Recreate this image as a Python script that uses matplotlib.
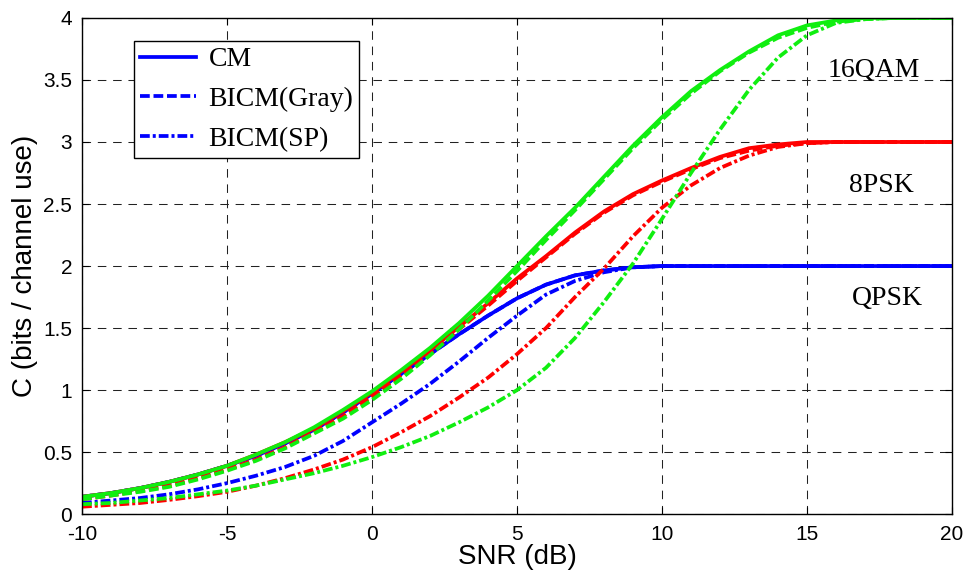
import numpy as np
import matplotlib
matplotlib.use("Agg")
import matplotlib.pyplot as plt

plt.rcParams["axes.unicode_minus"] = False

# SNR grid (dB)
snr = list(range(-10, 21))

# QPSK
qpsk_cm = [0.14, 0.17, 0.21, 0.26, 0.32, 0.39, 0.47, 0.57, 0.68, 0.82, 0.97,
           1.13, 1.29, 1.45, 1.60, 1.74, 1.85, 1.925, 1.965, 1.99, 2.0,
           2.0, 2.0, 2.0, 2.0, 2.0, 2.0, 2.0, 2.0, 2.0, 2.0]
qpsk_gray = list(qpsk_cm)
qpsk_sp = [0.09, 0.11, 0.13, 0.16, 0.20, 0.25, 0.31, 0.38, 0.47, 0.59, 0.74,
           0.89, 1.05, 1.23, 1.42, 1.60, 1.77, 1.88, 1.95, 1.99, 2.0,
           2.0, 2.0, 2.0, 2.0, 2.0, 2.0, 2.0, 2.0, 2.0, 2.0]

# 8PSK
psk8_cm = [0.14, 0.17, 0.21, 0.26, 0.32, 0.39, 0.48, 0.58, 0.69, 0.83, 0.98,
           1.15, 1.32, 1.51, 1.70, 1.90, 2.08, 2.27, 2.44, 2.58, 2.69,
           2.79, 2.88, 2.95, 2.98, 3.0, 3.0, 3.0, 3.0, 3.0, 3.0]
psk8_gray = [0.12, 0.15, 0.19, 0.23, 0.29, 0.36, 0.44, 0.54, 0.66, 0.79, 0.95,
             1.12, 1.30, 1.49, 1.68, 1.88, 2.07, 2.26, 2.43, 2.57, 2.68,
             2.78, 2.87, 2.93, 2.97, 2.99, 3.0, 3.0, 3.0, 3.0, 3.0]
psk8_sp = [0.06, 0.075, 0.09, 0.115, 0.145, 0.18, 0.23, 0.29, 0.36, 0.44, 0.54,
           0.66, 0.79, 0.94, 1.10, 1.29, 1.50, 1.75, 1.98, 2.24, 2.47,
           2.65, 2.79, 2.89, 2.96, 2.99, 3.0, 3.0, 3.0, 3.0, 3.0]

# 16QAM
qam16_cm = [0.14, 0.17, 0.21, 0.26, 0.32, 0.39, 0.48, 0.58, 0.70, 0.84, 0.99,
            1.16, 1.34, 1.54, 1.76, 2.0, 2.24, 2.47, 2.72, 2.97, 3.20,
            3.41, 3.58, 3.73, 3.86, 3.94, 3.98, 4.0, 4.0, 4.0, 4.0]
qam16_gray = [0.12, 0.15, 0.18, 0.22, 0.28, 0.35, 0.43, 0.53, 0.65, 0.77, 0.92,
              1.09, 1.28, 1.49, 1.72, 1.96, 2.21, 2.45, 2.70, 2.95, 3.18,
              3.39, 3.57, 3.72, 3.84, 3.92, 3.97, 3.99, 4.0, 4.0, 4.0]
qam16_sp = [0.08, 0.09, 0.11, 0.13, 0.16, 0.19, 0.23, 0.28, 0.33, 0.39, 0.46,
            0.54, 0.63, 0.74, 0.86, 1.00, 1.18, 1.42, 1.71, 2.02, 2.38,
            2.75, 3.10, 3.42, 3.68, 3.86, 3.96, 3.99, 4.0, 4.0, 4.0]

labels = ["CM", "BICM(Gray)", "BICM(SP)"]
mod_names = ["QPSK", "8PSK", "16QAM"]
label_pos = [(17.76, 1.74), (17.55, 2.65), (17.3, 3.58)]

blue, red, green = "#0000ff", "#ff0000", "#10ee10"
dashed = (0, (2.6, 1.0))
dashdot = (0, (2.6, 0.8, 0.8, 0.8))
lw = 2.7

fig = plt.figure(figsize=(9.65, 5.79), dpi=100)
ax = fig.add_axes([0.085, 0.112, 0.9015, 0.857])

groups = [(qpsk_cm, qpsk_gray, qpsk_sp, blue),
          (psk8_cm, psk8_gray, psk8_sp, red),
          (qam16_cm, qam16_gray, qam16_sp, green)]

handles = []
for cm, gray, sp, c in groups:
    h1, = ax.plot(snr, cm, color=c, lw=lw, ls="-")
    h2, = ax.plot(snr, gray, color=c, lw=lw, ls=dashed)
    h3, = ax.plot(snr, sp, color=c, lw=lw, ls=dashdot)
    if not handles:
        handles = [h1, h2, h3]

ax.set_xlim(-10, 20)
ax.set_ylim(0, 4)
ax.set_xticks(range(-10, 21, 5))
ax.set_yticks(np.arange(0, 4.01, 0.5))
ax.set_yticklabels(["0", "0.5", "1", "1.5", "2", "2.5", "3", "3.5", "4"])
ax.grid(True, color="#222222", ls=(0, (8.2, 6.5)), lw=0.75)
ax.tick_params(axis="both", direction="in", length=5, labelsize=15, width=0.8,
               top=True, right=True)
ax.tick_params(axis="x", pad=8)
ax.tick_params(axis="y", pad=7)
for lab in ax.get_xticklabels() + ax.get_yticklabels():
    lab.set_family("Liberation Sans")
for s in ax.spines.values():
    s.set_linewidth(1.0)

ax.set_xlabel("SNR (dB)", fontsize=20, family="Liberation Sans", labelpad=0)
ax.set_ylabel("C (bits / channel use)", fontsize=20, family="Liberation Sans",
              labelpad=4)

for name, (x, y) in zip(mod_names, label_pos):
    ax.text(x, y, name, ha="center", va="center", fontsize=20,
            family="Liberation Serif")

leg = ax.legend(handles, labels, loc="upper left", bbox_to_anchor=(0.06, 0.954),
                borderaxespad=0, fancybox=False, framealpha=1, edgecolor="black",
                prop={"family": "Liberation Serif", "size": 20},
                handlelength=2.0, handletextpad=0.45, labelspacing=0.52,
                borderpad=0.22)
leg.get_frame().set_linewidth(1.0)

fig.savefig("out.png", dpi=100)
